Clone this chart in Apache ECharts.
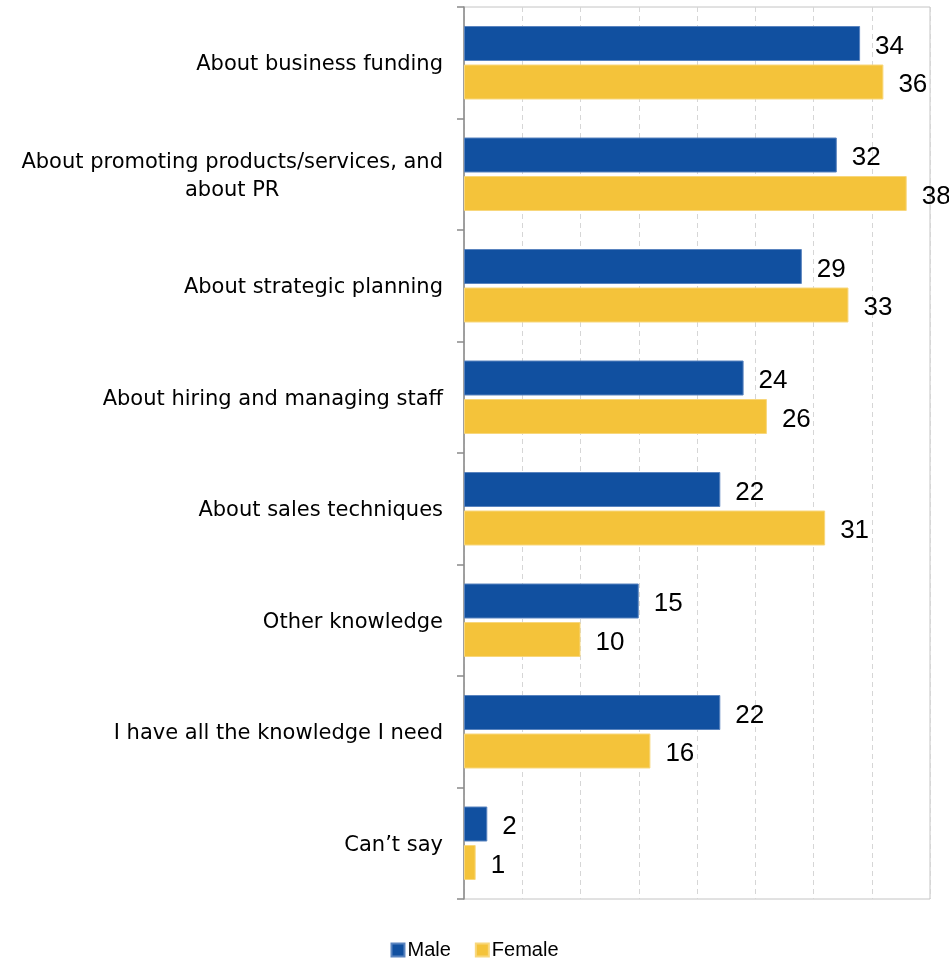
<!DOCTYPE html>
<html>
<head>
<meta charset="utf-8">
<style>
  html, body { margin: 0; padding: 0; background: #fff; }
  #chart { width: 949px; height: 958px; }
</style>
<script src="https://cdn.jsdelivr.net/npm/echarts@6/dist/echarts.min.js"></script>
</head>
<body>
<div id="chart"></div>
<script>
// Knowledge areas where more support is wanted, by gender (%)
const categories = [
  'About business funding',
  'About promoting products/services, and\nabout PR',
  'About strategic planning',
  'About hiring and managing staff',
  'About sales techniques',
  'Other knowledge',
  'I have all the knowledge I need',
  'Can\u2019t say'
];
const maleValues = [34, 32, 29, 24, 22, 15, 22, 2];
const femaleValues = [36, 38, 33, 26, 31, 10, 16, 1];
const seriesNames = ['Male', 'Female'];

const MALE_COLOR = '#1150A0';
const FEMALE_COLOR = '#F4C33A';

const chart = echarts.init(document.getElementById('chart'), null, { renderer: 'canvas' });

const valueLabel = {
  show: true,
  position: 'right',
  distance: 15,
  offset: [0, 3],
  color: '#000',
  fontFamily: '"Liberation Sans", Arial, sans-serif',
  fontSize: 26
};

chart.setOption({
  animation: false,
  backgroundColor: '#fff',
  grid: {
    left: 464,
    right: 19,
    top: 7,
    bottom: 59,
    show: true,
    borderColor: '#c4c4c4',
    borderWidth: 1,
    backgroundColor: 'transparent'
  },
  legend: {
    data: seriesNames,
    top: 940,
    left: 'center',
    padding: 0,
    itemWidth: 13,
    itemHeight: 13,
    itemGap: 24,
    icon: 'rect',
    textStyle: {
      fontFamily: '"Liberation Sans", Arial, sans-serif',
      fontSize: 20,
      color: '#000',
      padding: [0, 0, 0, -2]
    }
  },
  xAxis: {
    type: 'value',
    min: 0,
    max: 40,
    interval: 5,
    axisLine: { show: false },
    axisTick: { show: false },
    axisLabel: { show: false },
    splitLine: {
      show: true,
      lineStyle: { color: '#d6d6d6', type: [5, 4], width: 1 }
    }
  },
  yAxis: {
    type: 'category',
    data: categories,
    inverse: true,
    axisLine: { show: true, lineStyle: { color: '#8a8a8a', width: 1.5 } },
    axisTick: { show: true, length: 7, lineStyle: { color: '#8a8a8a', width: 1.5 } },
    axisLabel: {
      margin: 21,
      padding: [4, 0, 0, 0],
      formatter: function (v) {
        return v.split('\n').map(function (line) { return '{c|' + line + '}'; }).join('\n');
      },
      rich: {
        c: {
          align: 'center',
          fontFamily: '"DejaVu Sans", Verdana, sans-serif',
          fontSize: 21,
          lineHeight: 28,
          color: '#000'
        }
      }
    }
  },
  series: [
    {
      name: seriesNames[0],
      type: 'bar',
      data: maleValues,
      barWidth: 35,
      barGap: '10%',
      itemStyle: { color: MALE_COLOR, borderColor: '#5a84bf', borderWidth: 1 },
      label: valueLabel
    },
    {
      name: seriesNames[1],
      type: 'bar',
      data: femaleValues,
      barWidth: 35,
      barGap: '10%',
      itemStyle: { color: FEMALE_COLOR, borderColor: '#f8d77c', borderWidth: 1 },
      label: valueLabel
    }
  ]
});
</script>
</body>
</html>
